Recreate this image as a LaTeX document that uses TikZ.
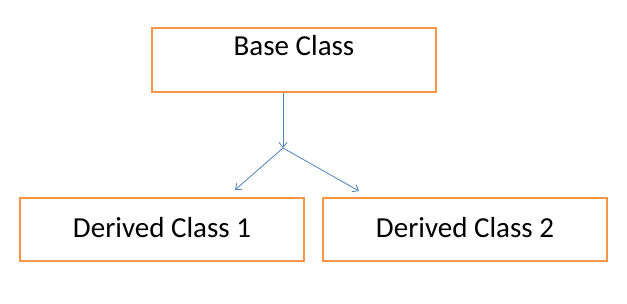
\documentclass[tikz,border=0pt]{standalone}
\usepackage{fontspec}
\setmainfont{Carlito}
\usetikzlibrary{arrows.meta,positioning,calc}
\definecolor{boxcol}{HTML}{F79646}
\definecolor{arrcol}{HTML}{4F81BD}

\begin{document}
\begin{tikzpicture}[x=1pt, y=-1pt,
  cls/.style={draw=boxcol, line width=2pt, minimum width=284pt, inner sep=0pt,
              font=\fontsize{29}{34}\selectfont},
  inh/.style={-{Straight Barb[length=5pt,width=8pt]}, arrcol, line width=0.8pt}]
\useasboundingbox (0,0) rectangle (627,304);

% ================================================ classes
\node[cls, text height=28pt, text depth=36pt] (base) at (294,60) {Base Class};
\node[cls, text height=40pt, text depth=23pt] (der1) at (162,229.5) {Derived Class 1};
\node[cls, text height=40pt, text depth=23pt] (der2) at (465,229.5) {Derived Class 2};

% ================================================ inheritance
\coordinate (fork) at (283,148);
\coordinate (endL) at (235,190);
\coordinate (endR) at (359,191);
\draw[inh] (base.south -| fork) -- (fork);
\draw[inh] (fork) -- (endL);
\draw[inh] (fork) -- (endR);

\end{tikzpicture}
\end{document}
